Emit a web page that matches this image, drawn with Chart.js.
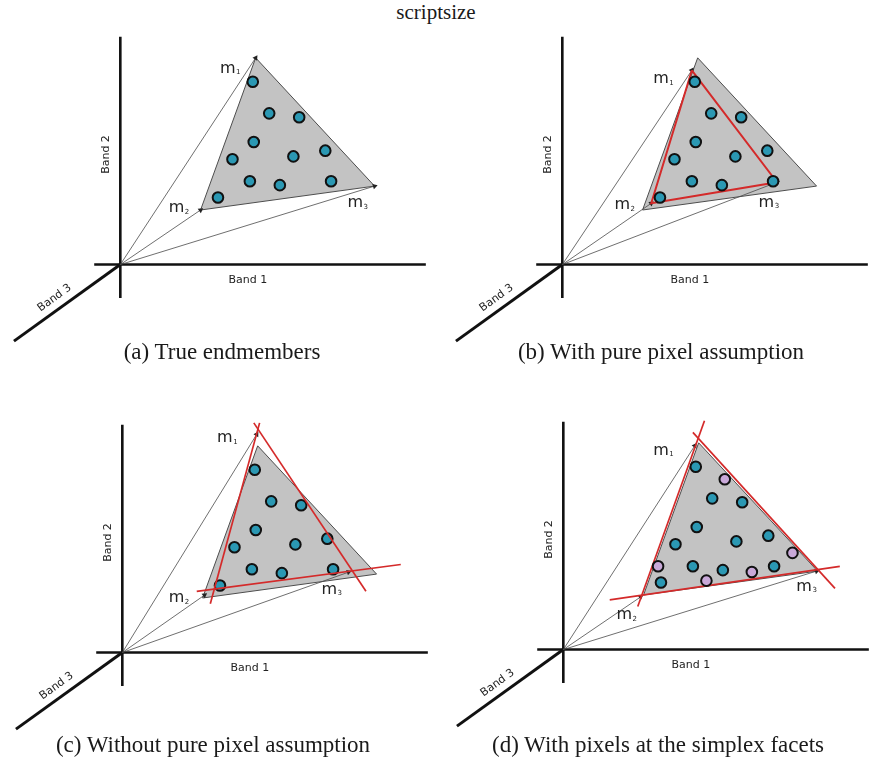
<!DOCTYPE html>
<html>
<head>
<meta charset="utf-8">
<script src="https://cdn.jsdelivr.net/npm/chart.js@4/dist/chart.umd.min.js"></script>
<style>
    html, body {
        margin: 0;
        padding: 0;
        background: #ffffff;
        overflow: hidden;
    }
    #page {
        position: relative;
        width: 872px;
        height: 770px;
    }
    canvas {
        position: absolute;
    }
    .caption {
        position: absolute;
        width: 420px;
        text-align: center;
        font-family: "Liberation Serif", "DejaVu Serif", serif;
        font-size: 23px;
        color: #1a1a1a;
        line-height: 1;
    }
    .title {
        font-size: 21px;
    }
</style>
</head>
<body>
<div id="page">
    <div class="caption title" style="left:226px; top:2px;">scriptsize</div>

    <canvas id="panelA" width="440" height="340"></canvas>
    <canvas id="panelB" width="440" height="340"></canvas>
    <canvas id="panelC" width="440" height="340"></canvas>
    <canvas id="panelD" width="440" height="340"></canvas>

    <div class="caption" style="left:12px; top:340px;">(a) True endmembers</div>
    <div class="caption" style="left:451px; top:340px;">(b) With pure pixel assumption</div>
    <div class="caption" style="left:3px; top:733px;">(c) Without pure pixel assumption</div>
    <div class="caption" style="left:448px; top:733px;">(d) With pixels at the simplex facets</div>
</div>

<script>
// values in band units, origin of the band axes at (0, 0)
const band1Axis = [-27, 316];
const band2Axis = [-35, 238];
const band3End = [-110, -80];

// true simplex vertices m1, m2, m3 (same in every panel)
const trueSimplex = [[140, 216], [83, 57], [263, 82]];

// mixed pixels inside the simplex
const pixels = [
    [137, 191], [154, 158], [185, 154], [138, 128], [116, 110], [179, 113],
    [212, 119], [134, 87], [165, 83], [218, 87], [101, 70]
];

// extra pixels lying on the facets, panel (d)
const facetPixels = [[167, 178], [98, 87], [148, 72], [195, 81], [237, 101]];

// (b) simplex found with pure pixel assumption
const ppiSimplex = [[134, 203], [92, 64], [222, 86]];

// (c) facet lines found without pure pixels, and estimated endmembers
const linesC = [
    [[142, 240], [91, 51]],
    [[136, 240], [252, 64]],
    [[77, 64], [288, 92]]
];
const tipsC = [[139, 228], [85, 60], [234, 84]];

// (d) facet lines through the facet pixels, and estimated endmembers
const linesD = [
    [[146, 239], [77, 45]],
    [[134, 227], [281, 64]],
    [[48, 52], [286, 87]]
];
const tipsD = [[136, 213], [80, 55], [262, 82]];

// label positions: m1, m2, m3 per panel
const mLabelsA = [[116, 205], [63, 59], [248, 64]];
const mLabelsB = [[107, 194], [67, 62], [216, 65]];
const mLabelsC = [[111, 224], [61, 57], [219, 66]];
const mLabelsD = [[106, 208], [68, 36], [254, 66]];

const band1Label = [132, -16];
const band2Label = [-15, 115];
const band3Label = [-68, -35];

// where the origin of each panel sits on the page
const panelOrigins = {
    panelA: [117.3, 268.3],
    panelB: [558.7, 268.3],
    panelC: [119.3, 655.7],
    panelD: [560.3, 653.3]
};

const X_MIN = -120, X_MAX = 320, Y_MIN = -90, Y_MAX = 250;

const RED = "#d42a2a";
const TEAL = "#2b98b3";
const LILAC = "#c9a9d9";

function toPoints(list) {
    return list.map(p => ({ x: p[0], y: p[1] }));
}

function lineSet(points, color, width, order) {
    return {
        data: toPoints(points),
        showLine: true,
        borderColor: color,
        borderWidth: width,
        pointRadius: 0,
        fill: false,
        order: order
    };
}

function axesSets() {
    return [
        lineSet([[band1Axis[0], 0], [band1Axis[1], 0]], "#111", 2.6, 9),
        lineSet([[0, band2Axis[0]], [0, band2Axis[1]]], "#111", 2.6, 9),
        lineSet([[0, 0], band3End], "#111", 3, 9)
    ];
}

function simplexSet(vertices) {
    const closed = vertices.concat([vertices[0]]);
    return {
        data: toPoints(closed),
        showLine: true,
        borderColor: "#4d4d4d",
        borderWidth: 1,
        backgroundColor: "#c3c3c3",
        pointRadius: 0,
        fill: "shape",
        tension: 0,
        order: 8
    };
}

function arrowSet(tip) {
    const angle = Math.atan2(tip[0], tip[1]) * 180 / Math.PI;
    return {
        data: toPoints([[0, 0], tip]),
        showLine: true,
        borderColor: "#4a4a4a",
        borderWidth: 0.8,
        pointStyle: "triangle",
        pointRadius: [0, 3.2],
        pointRotation: [0, angle],
        pointBackgroundColor: "#222",
        pointBorderColor: "#222",
        pointBorderWidth: 0,
        order: 6
    };
}

function pixelSet(list, color) {
    return {
        data: toPoints(list),
        showLine: false,
        pointRadius: 5.3,
        pointBackgroundColor: color,
        pointBorderColor: "#111",
        pointBorderWidth: 2,
        order: 1
    };
}

const diagramLabels = {
    id: "diagramLabels",
    afterDatasetsDraw(chart, args, opts) {
        const ctx = chart.ctx;
        const xs = chart.scales.x;
        const ys = chart.scales.y;
        ctx.save();
        ctx.fillStyle = "#222";
        ctx.textBaseline = "middle";

        const band = (pos, text, angle) => {
            ctx.save();
            ctx.translate(xs.getPixelForValue(pos[0]), ys.getPixelForValue(pos[1]));
            ctx.rotate(angle * Math.PI / 180);
            ctx.font = "11px 'DejaVu Sans', sans-serif";
            ctx.textAlign = "center";
            ctx.fillText(text, 0, 0);
            ctx.restore();
        };
        band(band1Label, "Band 1", 0);
        band(band2Label, "Band 2", -90);
        band(band3Label, "Band 3", -36);

        (opts.mLabels || []).forEach((pos, i) => {
            const px = xs.getPixelForValue(pos[0]);
            const py = ys.getPixelForValue(pos[1]);
            ctx.font = "16px 'DejaVu Sans', sans-serif";
            ctx.textAlign = "right";
            ctx.fillText("m", px + 3, py);
            ctx.font = "7px 'DejaVu Sans', sans-serif";
            ctx.textAlign = "left";
            ctx.fillText(String(i + 1), px + 3.5, py + 4);
        });
        ctx.restore();
    }
};

function buildPanel(id, datasets, mLabels) {
    const canvas = document.getElementById(id);
    const origin = panelOrigins[id];
    canvas.style.left = (origin[0] + X_MIN) + "px";
    canvas.style.top = (origin[1] - Y_MAX) + "px";

    return new Chart(canvas, {
        type: "scatter",
        data: { datasets },
        options: {
            responsive: false,
            animation: false,
            devicePixelRatio: 1,
            events: [],
            layout: { padding: 0 },
            scales: {
                x: { type: "linear", min: X_MIN, max: X_MAX, display: false },
                y: { type: "linear", min: Y_MIN, max: Y_MAX, display: false }
            },
            plugins: {
                legend: { display: false },
                tooltip: { enabled: false },
                diagramLabels: { mLabels }
            }
        },
        plugins: [diagramLabels]
    });
}

// (a) true endmembers
buildPanel("panelA", [
    ...axesSets(),
    simplexSet(trueSimplex),
    ...trueSimplex.map(arrowSet),
    pixelSet(pixels, TEAL)
], mLabelsA);

// (b) pure pixel assumption
buildPanel("panelB", [
    ...axesSets(),
    simplexSet(trueSimplex),
    ...ppiSimplex.map(arrowSet),
    lineSet(ppiSimplex.concat([ppiSimplex[0]]), RED, 2, 3),
    pixelSet(pixels, TEAL)
], mLabelsB);

// (c) without pure pixel assumption
buildPanel("panelC", [
    ...axesSets(),
    simplexSet(trueSimplex),
    ...tipsC.map(arrowSet),
    ...linesC.map(l => lineSet(l, RED, 1.7, 0)),
    pixelSet(pixels, TEAL)
], mLabelsC);

// (d) pixels at the simplex facets
buildPanel("panelD", [
    ...axesSets(),
    simplexSet(trueSimplex),
    ...tipsD.map(arrowSet),
    ...linesD.map(l => lineSet(l, RED, 1.7, 3)),
    pixelSet(pixels, TEAL),
    pixelSet(facetPixels, LILAC)
], mLabelsD);
</script>
</body>
</html>
